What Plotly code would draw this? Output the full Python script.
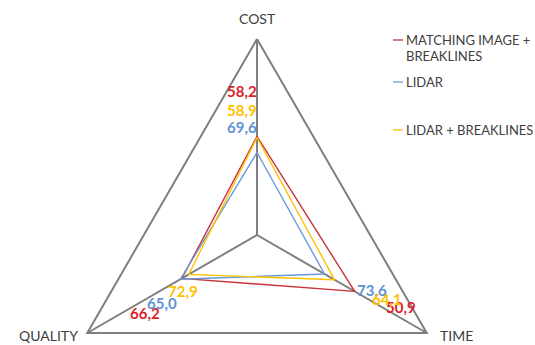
import numpy as np
import plotly.graph_objects as go

# Criteria on the three axes of the triangle (clockwise from the top)
criteria = ["COST", "TIME", "QUALITY"]
criteria_angle_deg = [90, -30, 210]

# Scores per method, one value per criterion
matching_image_breaklines = [58.2, 50.9, 66.2]
lidar = [69.6, 73.6, 65.0]
lidar_breaklines = [58.9, 64.1, 72.9]

series_names = ["MATCHING IMAGE + BREAKLINES", "LIDAR", "LIDAR + BREAKLINES"]
legend_lines = [["MATCHING IMAGE +", "BREAKLINES"], ["LIDAR"], ["LIDAR + BREAKLINES"]]
series_values = [matching_image_breaklines, lidar, lidar_breaklines]

# ---- styling -------------------------------------------------------------
line_colors = ["#C8323A", "#6A9BD6", "#FFC000"]
label_colors = ["#DA2128", "#5E93D3", "#FFC000"]
frame_color = "#7F7F7F"
text_color = "#404040"
font_family = "Lato, 'Open Sans', sans-serif"

# Radius is the inverse of the score: a better score sits nearer the centre.
R_MAX = 1 / 29.3  # outer triangle
theta = np.deg2rad(criteria_angle_deg)


def radius(score):
    return 1.0 / np.asarray(score, dtype=float)


def to_xy(r, ang):
    return r * np.cos(ang), r * np.sin(ang)


def comma(v):
    return f"{v:.1f}".replace(".", ",")


# Figure geometry (pixels): centre of the triangle and outer radius
W, H = 535, 345
CX, CY, RPX = 257, 235, 196
unit = R_MAX / RPX  # data units per pixel

fig = go.Figure()

# Outer triangle
fx, fy = to_xy(np.full(4, R_MAX), np.append(theta, theta[0]))
fig.add_trace(go.Scatter(x=fx, y=fy, mode="lines",
                         line=dict(color=frame_color, width=2),
                         showlegend=False, hoverinfo="skip"))

# Spokes from the centre to each vertex
sx, sy = [], []
for a in theta:
    vx, vy = to_xy(R_MAX, a)
    sx += [0, vx, None]
    sy += [0, vy, None]
fig.add_trace(go.Scatter(x=sx, y=sy, mode="lines",
                         line=dict(color=frame_color, width=2),
                         showlegend=False, hoverinfo="skip"))

# Method polygons
for name, vals, col in zip(series_names, series_values, line_colors):
    r = radius(vals)
    px_, py_ = to_xy(np.append(r, r[0]), np.append(theta, theta[0]))
    fig.add_trace(go.Scatter(x=px_, y=py_, mode="lines", name=name,
                             line=dict(color=col, width=1.4),
                             showlegend=False))

annotations = []

# Value labels, placed along each spoke (fraction of outer radius + offset)
label_radius = [
    [0.735, 0.848, 0.66],   # matching image + breaklines
    [0.551, 0.677, 0.56],   # lidar
    [0.64, 0.766, 0.436],   # lidar + breaklines
]
label_shift = [(-15, 0), (0, 11), (0, -13)]  # per criterion (x, y) in px
for vals, col, fr in zip(series_values, label_colors, label_radius):
    for k, v in enumerate(vals):
        lx, ly = to_xy(fr[k] * R_MAX, theta[k])
        annotations.append(dict(
            x=lx, y=ly, text=comma(v), showarrow=False,
            xshift=label_shift[k][0], yshift=label_shift[k][1],
            xanchor="center", yanchor="middle",
            font=dict(family=font_family, size=15, color=col, weight="bold"),
        ))

# Criterion names at the vertices
name_anchor = [("center", 0, 21), ("left", 11, -2), ("right", -7, -2)]
for k, c in enumerate(criteria):
    vx, vy = to_xy(R_MAX, theta[k])
    xa, dx, dy = name_anchor[k]
    annotations.append(dict(
        x=vx, y=vy, text=c, showarrow=False, xanchor=xa, yanchor="middle",
        xshift=dx, yshift=dy,
        font=dict(family=font_family, size=14, color=text_color),
    ))

# Legend: short coloured key followed by the series name
legend_y = [40, 82, 130]
shapes = []
for idx, lines in enumerate(legend_lines):
    y0 = legend_y[idx]
    shapes.append(dict(type="line", xref="paper", yref="paper",
                       x0=393 / W, x1=403 / W, y0=1 - y0 / H, y1=1 - y0 / H,
                       line=dict(color=line_colors[idx], width=1.3)))
    for j, t in enumerate(lines):
        annotations.append(dict(
            text=t, x=404 / W, y=1 - (y0 + 16 * j) / H,
            xref="paper", yref="paper", xanchor="left", yanchor="middle",
            showarrow=False,
            font=dict(family=font_family, size=13, color=text_color),
        ))

fig.update_layout(
    width=W, height=H,
    margin=dict(l=0, r=0, t=0, b=0),
    paper_bgcolor="white", plot_bgcolor="white",
    font=dict(family=font_family),
    xaxis=dict(range=[-CX * unit, (W - CX) * unit], visible=False, fixedrange=True),
    yaxis=dict(range=[-(H - CY) * unit, CY * unit], visible=False, fixedrange=True),
    annotations=annotations,
    shapes=shapes,
)

fig.write_html("out.html")
